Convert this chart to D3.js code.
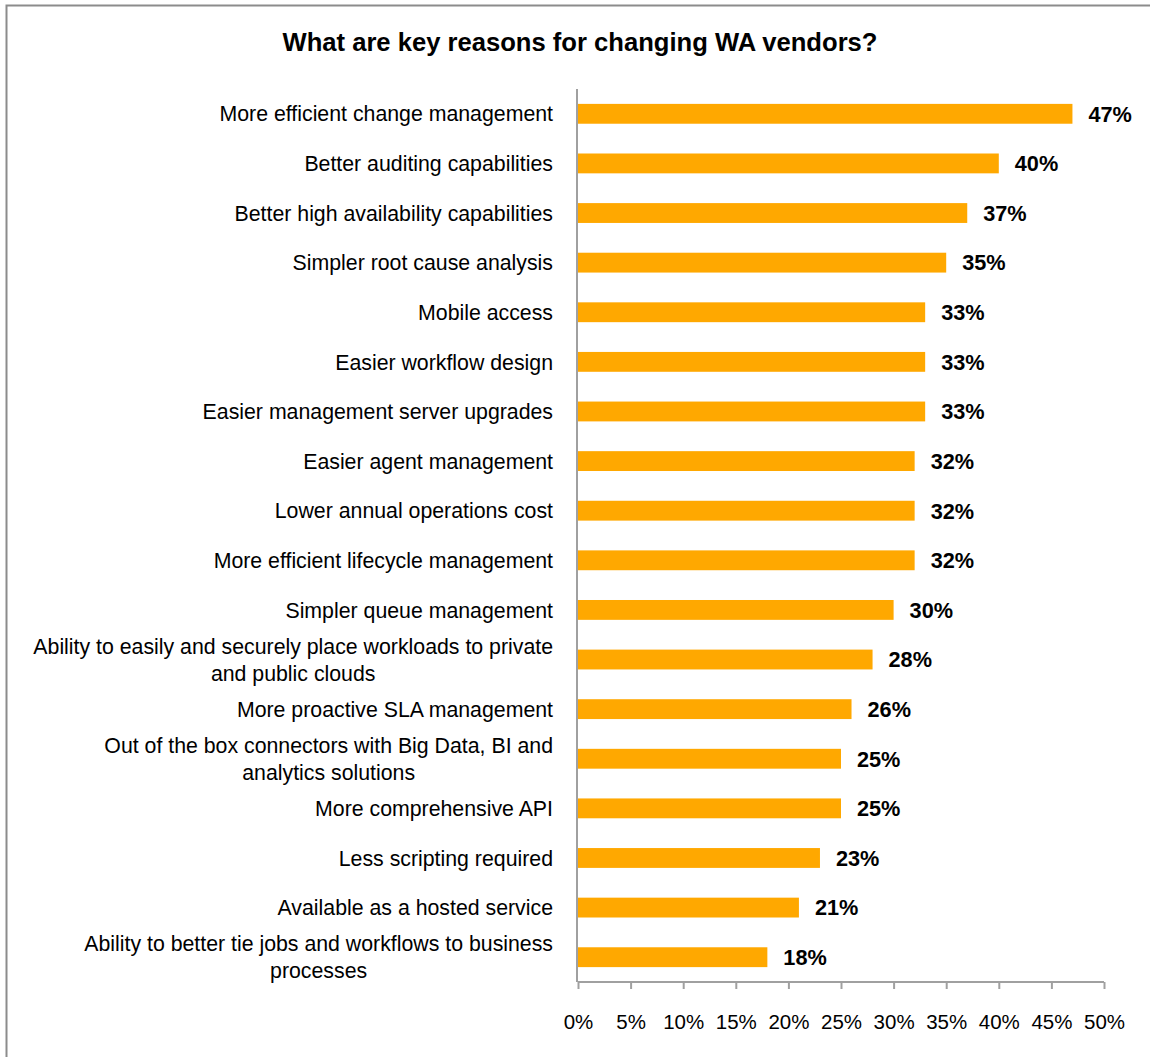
<!DOCTYPE html>
<html>
<head>
<meta charset="utf-8">
<title>WA vendors</title>
<style>
body {margin: 0; background: #fff;}
text {font-family: "Liberation Sans", Arial, sans-serif;}
.cat {font-size: 21.3px; fill: #000;}
.val {font-size: 21.7px; font-weight: bold; fill: #000;}
.tick text {font-size: 20.5px; fill: #000;}
</style>
</head>
<body>
<div id="chart"></div>
<script src="https://cdn.jsdelivr.net/npm/d3@7"></script>
<script>
var categories = [
	["More efficient change management"],
	["Better auditing capabilities"],
	["Better high availability capabilities"],
	["Simpler root cause analysis"],
	["Mobile access"],
	["Easier workflow design"],
	["Easier management server upgrades"],
	["Easier agent management"],
	["Lower annual operations cost"],
	["More efficient lifecycle management"],
	["Simpler queue management"],
	["Ability to easily and securely place workloads to private", "and public clouds"],
	["More proactive SLA management"],
	["Out of the box connectors with Big Data, BI and", "analytics solutions"],
	["More comprehensive API"],
	["Less scripting required"],
	["Available as a hosted service"],
	["Ability to better tie jobs and workflows to business", "processes"]
];
var values = [47, 40, 37, 35, 33, 33, 33, 32, 32, 32, 30, 28, 26, 25, 25, 23, 21, 18];
var tickValues = [0, 5, 10, 15, 20, 25, 30, 35, 40, 45, 50];

(function() {
	var width = 1150, height = 1057;
	var left = 578, right = 1104, top = 89, bottom = 982;

	var svg = d3.select('#chart').append('svg')
		.attr('width', width)
		.attr('height', height);

	// frame (cropped chart area border)
	svg.append('path')
		.attr('d', 'M6.5,' + height + 'V5.5H' + width)
		.attr('fill', 'none')
		.attr('stroke', '#8c8c8c')
		.attr('stroke-width', 2);

	svg.append('text')
		.attr('x', 580)
		.attr('y', 51)
		.attr('text-anchor', 'middle')
		.style('font-size', '25.6px')
		.style('font-weight', 'bold')
		.text('What are key reasons for changing WA vendors?');

	var x = d3.scaleLinear().domain([0, 50]).range([left, right]);
	var y = d3.scaleBand()
		.domain(d3.range(values.length))
		.range([top, bottom])
		.paddingInner(0.6)
		.paddingOuter(0.3);

	svg.selectAll('rect.bar')
		.data(values)
		.enter()
		.append('rect')
		.attr('class', 'bar')
		.attr('x', x(0))
		.attr('y', function(d, i) { return y(i); })
		.attr('width', function(d) { return x(d) - x(0); })
		.attr('height', y.bandwidth())
		.attr('fill', '#ffa800');

	svg.selectAll('text.val')
		.data(values)
		.enter()
		.append('text')
		.attr('class', 'val')
		.attr('x', function(d) { return x(d) + 16; })
		.attr('y', function(d, i) { return y(i) + y.bandwidth() / 2; })
		.attr('dy', '0.36em')
		.text(function(d) { return d + '%'; });

	// category labels, multi-line ones centred as a block
	var lineH = 27;
	var labels = svg.selectAll('g.cat')
		.data(categories)
		.enter()
		.append('g')
		.attr('class', 'cat');
	labels.each(function(lines, i) {
		var g = d3.select(this);
		var cy = y(i) + y.bandwidth() / 2;
		var t = g.selectAll('text').data(lines).enter().append('text')
			.attr('class', 'cat')
			.attr('y', function(d, j) { return cy + (j - (lines.length - 1) / 2) * lineH; })
			.attr('dy', '0.36em')
			.text(function(d) { return d; });
		var w = 0;
		t.each(function() { w = Math.max(w, this.getComputedTextLength()); });
		t.attr('x', 553 - w / 2).attr('text-anchor', 'middle');
	});

	var xAxis = d3.axisBottom(x)
		.tickValues(tickValues)
		.tickSize(7)
		.tickPadding(25)
		.tickFormat(function(d) { return d + '%'; });
	var gx = svg.append('g')
		.attr('transform', 'translate(0,' + bottom + ')')
		.call(xAxis);
	gx.select('.domain').attr('stroke', '#a0a0a0').attr('stroke-width', 2)
		.attr('d', 'M' + left + ',0H' + right);
	gx.selectAll('.tick line').attr('stroke', '#a0a0a0').attr('stroke-width', 2);

	svg.append('line')
		.attr('x1', left - 1).attr('x2', left - 1)
		.attr('y1', top).attr('y2', bottom)
		.attr('stroke', '#a0a0a0')
		.attr('stroke-width', 2);
})();
</script>
</body>
</html>
